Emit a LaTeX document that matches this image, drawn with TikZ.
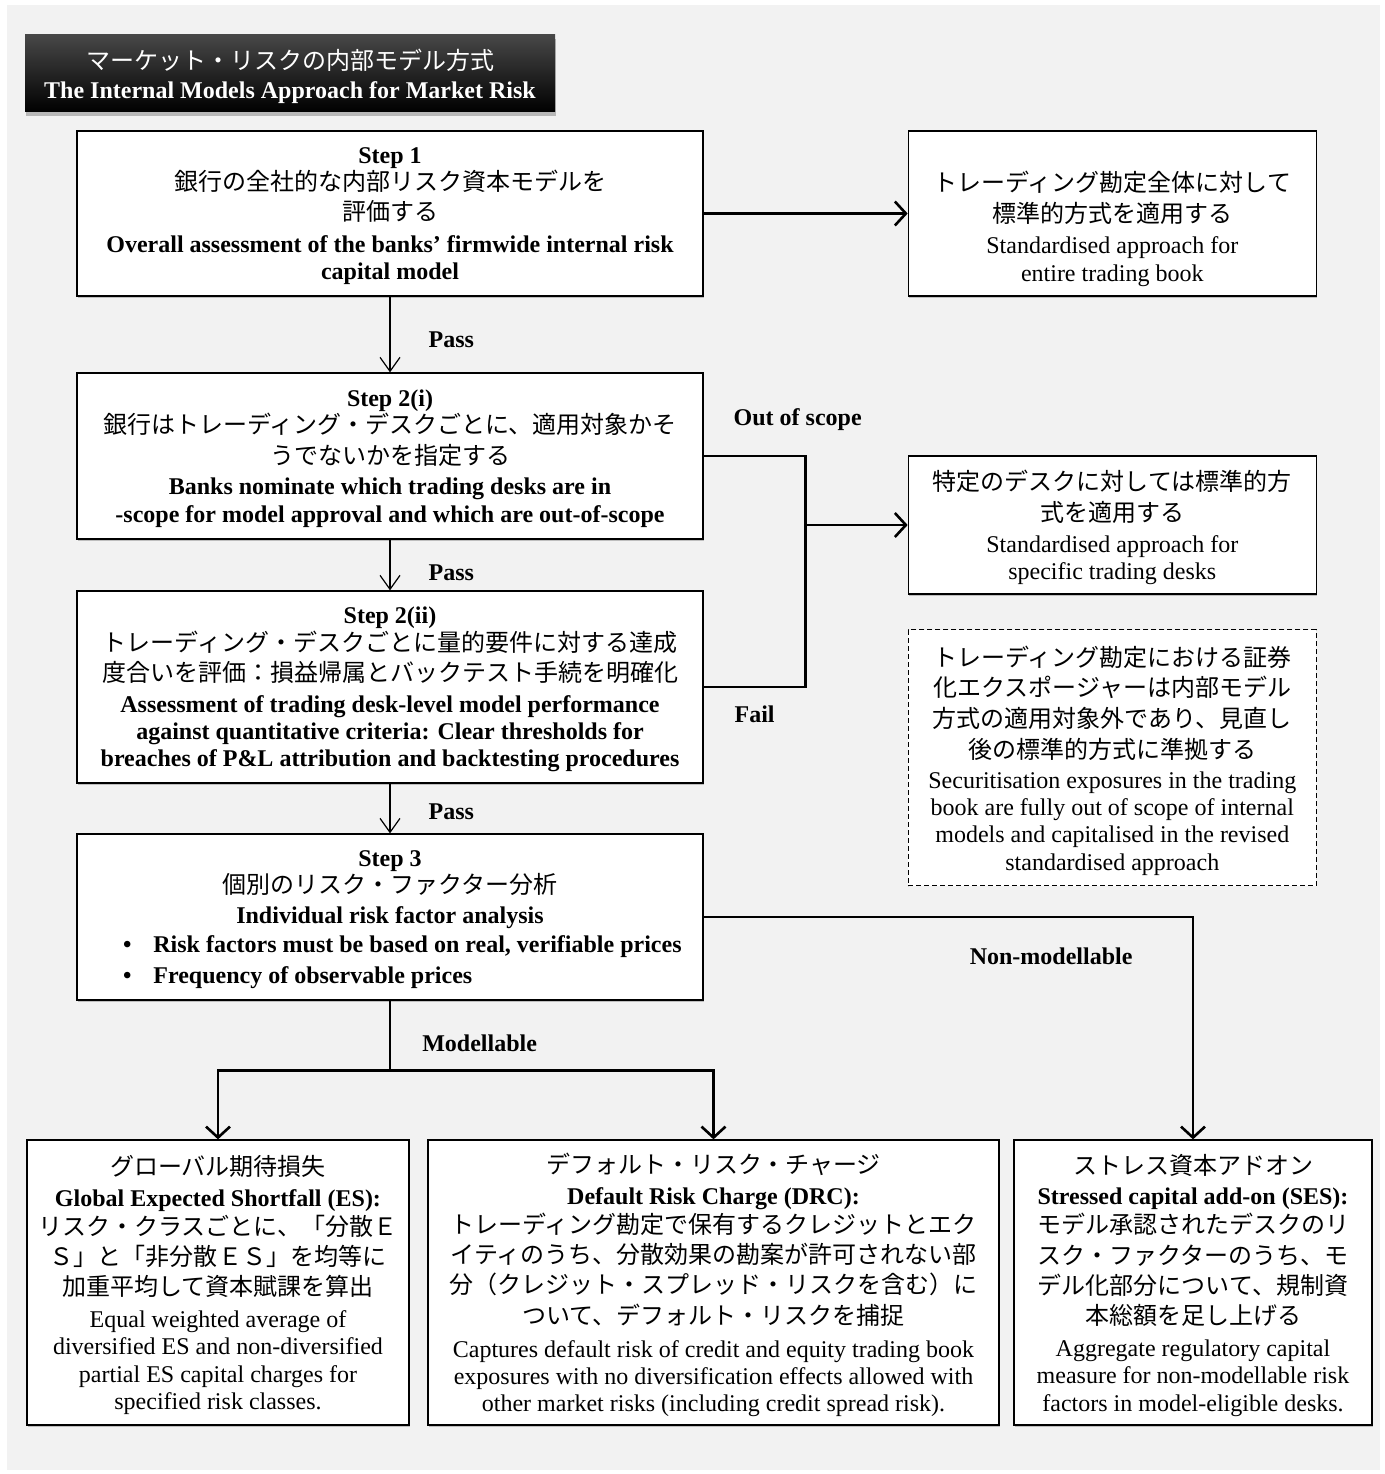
\documentclass[tikz,border=0pt]{standalone}
\usepackage{fontspec}
\setmainfont{Liberation Serif}
\newfontfamily\jpfont{Noto Sans CJK JP}
\usetikzlibrary{positioning,arrows.meta,shadows}

\newcommand{\jp}[1]{{\jpfont\mdseries\fontsize{24}{30}\selectfont #1}}

\tikzstyle{plainbox} = [draw, line width=1.3pt, fill=white, align=center, inner sep=0pt,
  text depth=-3pt, font=\fontsize{24}{27.3}\selectfont]
\tikzstyle{sidebox} = [plainbox, drop shadow={shadow xshift=0.8pt, shadow yshift=-2.2pt, opacity=0.45}]
\tikzstyle{stepbox} = [sidebox, font=\bfseries\fontsize{24}{27.3}\selectfont]
\tikzstyle{notebox} = [plainbox, line width=1pt, dash pattern=on 5pt off 3pt]
\tikzstyle{titlebox} = [align=center, text=white, inner sep=0pt, text depth=-5pt,
  font=\fontsize{24}{27.3}\selectfont,
  top color=black!72, middle color=black, bottom color=black,
  drop shadow={shadow xshift=1pt, shadow yshift=-4pt, opacity=0.5}]
\tikzstyle{lbl} = [font=\bfseries\fontsize{24}{27.3}\selectfont, inner sep=0pt]
\tikzstyle{line} = [draw, line width=2.6pt, -{Straight Barb[length=11pt, width=24pt]}]
\tikzstyle{thin line} = [draw, line width=1.2pt, -{Straight Barb[length=14pt, width=20pt]}]

\begin{document}
\begin{tikzpicture}[x=1pt, y=-1pt]

        \useasboundingbox (0,0) rectangle (1384,1474);
        \fill[gray!10] (7,5) rectangle (1380,1470);

        \node[titlebox, minimum width=530pt, minimum height=77pt] (T) at (290,73.5)
          {\jp{マーケット・リスクの内部モデル方式}\\[2pt]\textbf{The Internal Models Approach for Market Risk}};

        % main column
        \node[stepbox, minimum width=626pt, minimum height=165pt] (S1) at (390,213.5)
          {Step 1\\\jp{銀行の全社的な内部リスク資本モデルを}\\[3pt]\jp{評価する}\\[4.5pt]
           Overall assessment of the banks’ firmwide internal risk\\capital model};
        \node[stepbox, minimum width=626pt, minimum height=166pt] (S2i) [below=75.7pt of S1]
          {Step 2(i)\\\jp{銀行はトレーディング・デスクごとに、適用対象かそ}\\[3pt]\jp{うでないかを指定する}\\[3.5pt]
           Banks nominate which trading desks are in\\-scope for model approval and which are out-of-scope};
        \node[stepbox, minimum width=626pt, minimum height=192pt] (S2ii) [below=50.7pt of S2i]
          {Step 2(ii)\\\jp{トレーディング・デスクごとに量的要件に対する達成}\\[3pt]\jp{度合いを評価：損益帰属とバックテスト手続を明確化}\\[3.5pt]
           Assessment of trading desk-level model performance\\against quantitative criteria: Clear thresholds for\\
           breaches of P\&L attribution and backtesting procedures};
        \node[stepbox, minimum width=626pt, minimum height=166pt, text depth=31pt] (S3) [below=49.7pt of S2ii]
          {Step 3\\\jp{個別のリスク・ファクター分析}\\[2.5pt]Individual risk factor analysis\\[2.5pt]
           \hspace*{24.8pt}\begin{tabular}[t]{@{}l@{}}
             \textbullet\hspace{21.8pt}Risk factors must be based on real, verifiable prices\\[3pt]
             \textbullet\hspace{21.8pt}Frequency of observable prices
           \end{tabular}};

        % right column
        \node[sidebox, minimum width=408pt, minimum height=165pt] (SA1) [right=204pt of S1]
          {\jp{\rule{0pt}{46pt}トレーディング勘定全体に対して}\\[3pt]\jp{標準的方式を適用する}\\[4.5pt]
           Standardised approach for\\entire trading book};
        \node[sidebox, minimum width=408pt, minimum height=138pt] (SA2) [below=158.7pt of SA1]
          {\jp{特定のデスクに対しては標準的方}\\[3.5pt]\jp{式を適用する}\\[3.5pt]
           Standardised approach for\\specific trading desks};
        \node[notebox, minimum width=408pt, minimum height=256pt] (SEC) [below=34.7pt of SA2]
          {\jp{トレーディング勘定における証券}\\[3.5pt]\jp{化エクスポージャーは内部モデル}\\[3.5pt]
           \jp{方式の適用対象外であり、見直し}\\[3.5pt]\jp{後の標準的方式に準拠する}\\[2.5pt]
           Securitisation exposures in the trading\\book are fully out of scope of internal\\
           models and capitalised in the revised\\standardised approach};

        % bottom row
        \node[sidebox, minimum width=382pt, minimum height=285pt] (ES)
          [below right=138.7pt and -50pt of S3.south west]
          {\jp{グローバル期待損失}\\[3.5pt]\textbf{Global Expected Shortfall (ES):}\\[1.5pt]
           \jp{リスク・クラスごとに、「分散Ｅ}\\[3pt]\jp{Ｓ」と「非分散ＥＳ」を均等に}\\[3pt]\jp{加重平均して資本賦課を算出}\\[4.5pt]
           Equal weighted average of\\diversified ES and non-diversified\\partial ES capital charges for\\specified risk classes.};
        \node[sidebox, minimum width=571pt, minimum height=285pt] (DRC) [right=17.7pt of ES]
          {\jp{デフォルト・リスク・チャージ}\\[3.5pt]\textbf{Default Risk Charge (DRC):}\\[1.5pt]
           \jp{トレーディング勘定で保有するクレジットとエク}\\[3pt]\jp{イティのうち、分散効果の勘案が許可されない部}\\[3pt]
           \jp{分（クレジット・スプレッド・リスクを含む）に}\\[3pt]\jp{ついて、デフォルト・リスクを捕捉}\\[5.5pt]
           Captures default risk of credit and equity trading book\\exposures with no diversification effects allowed with\\
           other market risks (including credit spread risk).};
        \node[sidebox, minimum width=358pt, minimum height=285pt] (SES) [right=13.7pt of DRC]
          {\jp{ストレス資本アドオン}\\[3.5pt]\textbf{Stressed capital add-on (SES):}\\[1.5pt]
           \jp{モデル承認されたデスクのリ}\\[3pt]\jp{スク・ファクターのうち、モ}\\[3pt]\jp{デル化部分について、規制資}\\[3pt]\jp{本総額を足し上げる}\\[4.5pt]
           Aggregate regulatory capital\\measure for non-modellable risk\\factors in model-eligible desks.};

        \coordinate[left=102pt of SA2.west] (J);
        \coordinate[below=70pt of S3.south] (B);

        \path [line] (S1) -- (SA1);
        \path [thin line] (S1) -- node[lbl, right=38pt, yshift=-5pt] {Pass} (S2i);
        \path [thin line] (S2i) -- node[lbl, right=38pt, yshift=-8pt] {Pass} (S2ii);
        \path [thin line] (S2ii) -- node[lbl, right=38pt, yshift=-3pt] {Pass} (S3);

        \draw [line width=2.6pt] (S2i.east) -| node[lbl, pos=0.5, above=24pt, xshift=-8pt] {Out of scope} (J)
              |- node[lbl, pos=0.75, below=18pt] {Fail} (S2ii.east);
        \path [line] (J) -- (SA2);

        \path [line] (S3.east) -| node[lbl, pos=0.355, below=30pt] {Non-modellable} (SES);

        \draw [line width=2.6pt] (S3.south) -- node[lbl, right=31pt, yshift=-8pt] {Modellable} (B);
        \path [line] (B) -| (ES);
        \path [line] (B) -| (DRC);

\end{tikzpicture}
\end{document}
